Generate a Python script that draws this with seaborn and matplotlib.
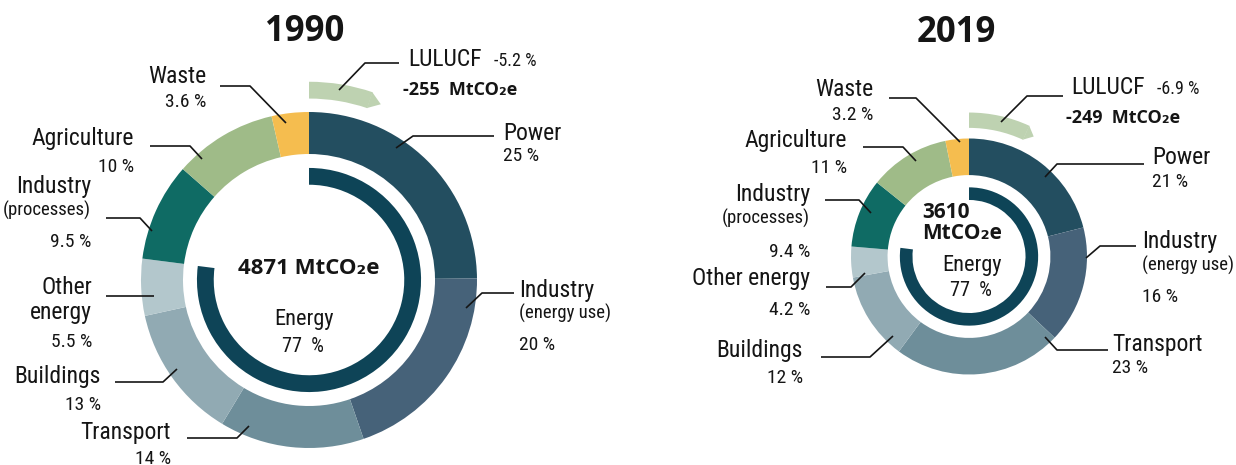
import matplotlib
matplotlib.use("Agg")
import matplotlib.pyplot as plt
from matplotlib import font_manager as fm
import numpy as np
import seaborn as sns

# shares of total emissions (%), clockwise from 12 o'clock
sectors = ["Power", "Industry", "Transport", "Buildings", "Other energy",
           "Industry", "Agriculture", "Waste"]
sub_labels = ["", "(energy use)", "", "", "", "(processes)", "", ""]
share_1990 = [25, 20, 14, 13, 5.5, 9.5, 10, 3.6]
share_2019 = [21, 16, 23, 12, 4.2, 9.4, 11, 3.2]
energy_share = [77, 77]
lulucf_share = [-5.2, -6.9]
lulucf_mt = [-255, -249]
total_mt = [4871, 3610]
years = ["1990", "2019"]

sector_colors = ["#234e60", "#466279", "#6e8e9a", "#91aab3", "#b3c7cc",
                 "#0f6b64", "#9fbb88", "#f5bd4f"]
energy_color = "#0e4457"
lulucf_color = "#bed2b1"
ink = "#151515"

sns.set_theme(style="white")

# the original uses a condensed face; take one if the system has it
entries = fm.fontManager.ttflist
names = {f.name for f in entries}
stretch = "normal"
scale = 1.0
cond = None
for cand in ["Liberation Sans Narrow", "Roboto Condensed", "Open Sans Condensed",
             "Noto Sans Condensed", "DejaVu Sans Condensed"]:
    if cand in names:
        cond = cand
        break
if cond is None:
    c2 = [f for f in entries if str(f.stretch) in ("condensed", "semi-condensed")
          and f.name in ("DejaVu Sans", "Noto Sans", "Roboto", "Open Sans")]
    if c2:
        cond = c2[0].name
        stretch = str(c2[0].stretch)
if cond is None:
    cond = "Roboto" if "Roboto" in names else "DejaVu Sans"
    scale = 0.84
plt.rcParams["font.family"] = [cond, "DejaVu Sans"]
plt.rcParams["font.stretch"] = stretch
BOLD = ["Open Sans", "DejaVu Sans"]

NAME, SUB, PCT = 17 * scale, 13.5 * scale, 14 * scale

W, H = 1236, 465
fig = plt.figure(figsize=(12.36, 4.65), dpi=100)
ax = fig.add_axes([0, 0, 1, 1])


def Y(y):
    return H - y


def donut(cx, cy, R, shares, inner, e_r, e_w, l_r, l_w, e_pct, l_pct):
    c = (cx, Y(cy))
    ax.pie(shares, radius=R, center=c, startangle=90, counterclock=False,
           colors=sector_colors, wedgeprops=dict(width=R * (1 - inner), linewidth=0))
    ax.pie([e_pct, 100 - e_pct], radius=R * e_r, center=c, startangle=90,
           counterclock=False, colors=[energy_color, "none"],
           wedgeprops=dict(width=R * e_w, linewidth=0))
    lp = abs(l_pct)
    ax.pie([lp, 100 - lp], radius=R * l_r, center=c, startangle=90,
           counterclock=False, colors=[lulucf_color, "none"],
           wedgeprops=dict(width=R * l_w, linewidth=0))
    # arrow tip at the end of the LULUCF band
    th = np.deg2rad(90 - 360 * lp / 100)
    d = np.deg2rad(3.5)
    ro, ri = R * l_r, R * (l_r - l_w)
    rm = (ro + ri) / 2
    px = [c[0] + ro * np.cos(th + 0.002), c[0] + rm * np.cos(th - d), c[0] + ri * np.cos(th + 0.002)]
    py = [c[1] + ro * np.sin(th + 0.002), c[1] + rm * np.sin(th - d), c[1] + ri * np.sin(th + 0.002)]
    ax.fill(px, py, color=lulucf_color, lw=0)


def leader(pts):
    ax.plot([p[0] for p in pts], [Y(p[1]) for p in pts], color=ink, lw=1.2,
            solid_capstyle="butt")


def txt(x, y, s, size, ha="left", **kw):
    return ax.text(x, Y(y), s, ha=ha, va="center", fontsize=size, color=ink, **kw)


def labels(layout, shares, two_line_other):
    for i, (x, ha, yn, ys, yp) in enumerate(layout):
        name = sectors[i]
        if name == "Other energy" and two_line_other:
            txt(x, yn, "Other", NAME, ha)
            txt(x, yn + 25, "energy", NAME, ha)
        else:
            txt(x, yn, name, NAME, ha)
        if sub_labels[i]:
            txt(x, ys, sub_labels[i], SUB, ha)
        txt(x, yp, f"{shares[i]:g} %", PCT, ha)


def lulucf_text(x, y, k):
    t = txt(x, y, "LULUCF", NAME)
    ax.annotate(f"{lulucf_share[k]:g} %", xy=(1, 0.45), xycoords=t, xytext=(9, 0),
                textcoords="offset points", ha="left", va="center",
                fontsize=13 * scale, color=ink)
    txt(x - 5, y + 30, f"{lulucf_mt[k]}  MtCO\u2082e", 13, fontweight="bold", family=BOLD)


# ---- 1990 ----
donut(309, 280, 168, share_1990, 0.75, 0.667, 0.10, 1.18, 0.10,
      energy_share[0], lulucf_share[0])
txt(305, 32, years[0], 25, "center", fontweight="bold", family=BOLD)

labels([  # x, ha, y_name, y_sub, y_pct
    (503, "left", 133, None, 156),
    (519, "left", 290, 313, 345),
    (171, "right", 432, None, 459),
    (101, "right", 377, None, 405),
    (92, "right", 288, None, 342),
    (91, "right", 187, 210, 242),
    (134, "right", 139, None, 167),
    (206, "right", 77, None, 102),
], share_1990, True)

for pts in [
    [(494, 136), (413, 136), (396, 148)],
    [(514, 293), (482, 293), (466, 308)],
    [(187, 438), (237, 438), (249, 426)],
    [(115, 382), (163, 382), (177, 369)],
    [(106, 296), (154, 296)],
    [(106, 218), (140, 218), (152, 231)],
    [(150, 146), (190, 146), (202, 159)],
    [(220, 86), (250, 86), (286, 123)],
    [(399, 63), (365, 63), (339, 90)],
]:
    leader(pts)

lulucf_text(408, 60, 0)
txt(309, 268, f"{total_mt[0]} MtCO\u2082e", 16, "center", fontweight="bold", family=BOLD)
txt(304, 320, "Energy", 16 * scale / 0.84 if scale < 1 else 16, "center")
txt(303, 347, f"{energy_share[0]}  %", 14.5 * scale, "center")

# ---- 2019 ----
donut(969, 256.5, 118, share_2019, 0.69, 0.586, 0.107, 1.22, 0.13,
      energy_share[1], lulucf_share[1])
txt(956, 33, years[1], 25, "center", fontweight="bold", family=BOLD)

labels([
    (1152, "left", 157, None, 182),
    (1142, "left", 242, 265, 297),
    (1112, "left", 345, None, 368),
    (803, "right", 350, None, 378),
    (810, "right", 278, None, 310),
    (810, "right", 195, 218, 252),
    (847, "right", 140, None, 168),
    (873, "right", 90, None, 115),
], share_2019, False)

for pts in [
    [(1144, 164), (1057, 164), (1045, 177)],
    [(1136, 246), (1100, 246), (1086, 258)],
    [(1108, 350), (1057, 350), (1045, 337)],
    [(821, 357), (870, 357), (893, 336)],
    [(826, 287), (851, 287), (865, 273)],
    [(825, 200), (859, 200), (871, 213)],
    [(863, 147), (903, 147), (916, 161)],
    [(889, 98), (916, 98), (960, 142)],
    [(1063, 96), (1027, 96), (1001, 122)],
]:
    leader(pts)

lulucf_text(1071, 88, 1)
txt(922, 213, f"{total_mt[1]}", 15, fontweight="bold", family=BOLD)
txt(922, 234, "MtCO\u2082e", 15, fontweight="bold", family=BOLD)
txt(972, 265, "Energy", 16 * scale, "center")
txt(971, 290, f"{energy_share[1]}  %", 14.5 * scale, "center")

ax.set_xlim(0, W)
ax.set_ylim(0, H)
ax.set_aspect("equal")
ax.axis("off")

fig.savefig("out.png", dpi=100)
